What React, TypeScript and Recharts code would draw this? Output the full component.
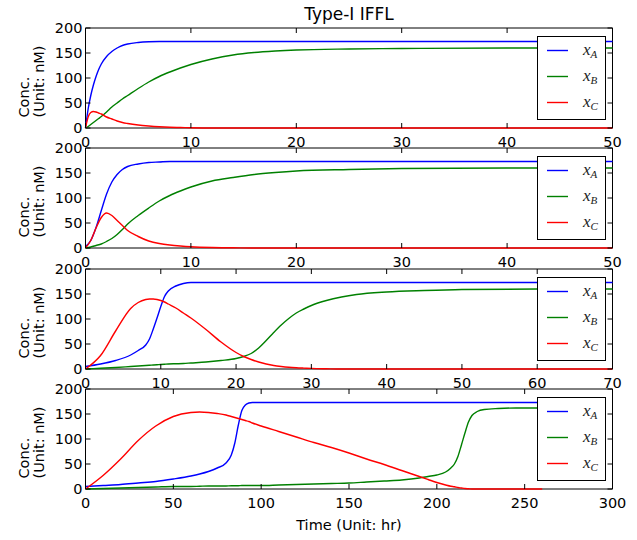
import { LineChart, Line, XAxis, YAxis, CartesianGrid, ReferenceArea, Legend } from "recharts";

const FONT = "'DejaVu Sans', sans-serif";
const MATH = "'Liberation Serif', serif";
const W = 637;
const PH = 100; // plot box height
const PLOT_L = 85.5;
const PLOT_R = 612.5;

const Y_TICKS = [0, 50, 100, 150, 200];
const SUBS = ["A", "B", "C"];

// panel 1: t in [0, 50]
const T1 = [0, 0.25, 0.5, 0.75, 1, 1.25, 1.5, 2, 2.5, 3, 3.5, 4, 5, 6, 7, 8, 9, 10, 12, 14, 16, 18, 20, 25, 30, 40, 50];
const A1 = [0, 38, 65, 86, 103, 117, 128, 143, 153, 160, 165, 168, 171, 172.5, 173, 173, 173, 173, 173, 173, 173, 173, 173, 173, 173, 173, 173];
const B1 = [0, 3, 7, 11, 15, 19, 23, 32, 42, 50, 58, 65, 79, 92, 103, 112, 120, 127, 138, 146, 151, 154, 156, 158, 159, 160, 160];
const C1 = [0, 22, 31, 33, 32, 30, 28, 22, 18, 14, 11, 9, 6, 4, 2.5, 1.5, 1, 0.5, 0, 0, 0, 0, 0, 0, 0, 0, 0];
const X1 = [0, 10, 20, 30, 40, 50];

// panel 2: t in [0, 50]
const T2 = [0, 0.5, 1, 1.5, 2, 2.5, 3, 3.5, 4, 5, 6, 7, 8, 9, 10, 12, 14, 16, 18, 20, 25, 30, 40, 50];
const A2 = [3, 15, 41, 75, 108, 132, 147, 157, 163, 168, 171, 172, 173, 173, 173, 173, 173, 173, 173, 173, 173, 173, 173, 173];
const B2 = [0, 2, 5, 8, 13, 19, 27, 37, 48, 65, 80, 94, 105, 114, 122, 134, 141, 147, 151, 154, 157, 159, 160, 160];
const C2 = [0, 15, 40, 61, 70, 65, 55, 45, 35, 23, 14, 9, 6, 4, 2.5, 1, 0.5, 0, 0, 0, 0, 0, 0, 0];
const X2 = [0, 10, 20, 30, 40, 50];

// panel 3: t in [0, 70]
const T3 = [0, 2, 4, 6, 7, 8, 8.5, 9, 9.5, 10, 10.5, 11, 12, 13, 14, 16, 18, 20, 21, 22, 23, 24, 25, 26, 27, 28, 29, 30, 32, 34, 36, 40, 45, 50, 60, 70];
const A3 = [5, 10, 17, 28, 37, 48, 60, 80, 102, 125, 145, 156, 166, 171, 173, 173, 173, 173, 173, 173, 173, 173, 173, 173, 173, 173, 173, 173, 173, 173, 173, 173, 173, 173, 173, 173];
const B3 = [0, 1.5, 3, 5, 6, 7, 7.5, 8, 8.5, 9, 9.5, 10, 10.5, 11, 12, 14, 17, 21, 25, 31, 42, 57, 73, 88, 101, 112, 120, 127, 137, 144, 149, 154, 157, 159, 160, 160];
const C3 = [0, 27, 76, 121, 133, 139, 140, 140, 139, 137, 134, 130, 122, 112, 102, 79, 54, 33, 25, 19, 14, 10, 7, 5, 3.5, 2.5, 1.8, 1.2, 0.5, 0, 0, 0, 0, 0, 0, 0];
const X3 = [0, 10, 20, 30, 40, 50, 60, 70];

// panel 4: t in [0, 300], simulated up to 260
const T4 = [0, 10, 20, 30, 40, 50, 60, 65, 70, 75, 80, 83, 85, 87, 89, 91, 93, 95, 100, 110, 120, 130, 140, 150, 160, 170, 180, 190, 195, 200, 205, 208, 210, 212, 214, 216, 218, 220, 223, 227, 235, 245, 260];
const A4 = [5, 7, 9, 12, 15, 20, 26, 30, 35, 42, 52, 68, 92, 128, 157, 168, 172, 173, 173, 173, 173, 173, 173, 173, 173, 173, 173, 173, 173, 173, 173, 173, 173, 173, 173, 173, 173, 173, 173, 173, 173, 173, 173];
const B4 = [0, 1, 2, 3, 4, 5, 5, 5.5, 6, 6, 6, 6.5, 6.5, 6.5, 7, 7, 7, 7, 7, 8, 9, 10, 11, 12, 14, 16, 18, 22, 25, 28, 34, 42, 50, 65, 88, 112, 134, 147, 155, 159, 161, 162, 162];
const C4 = [0, 27, 60, 97, 126, 145, 153, 154, 153, 151, 148, 145, 143, 141, 139, 137, 135, 132, 126, 115, 104, 93, 83, 72, 60, 49, 37, 25, 19, 13, 8, 5.5, 4.5, 3, 2, 1, 0.5, 0, 0, 0, 0, 0, 0];
const X4 = [0, 50, 100, 150, 200, 250, 300];

const rows = (t: number[], a: number[], b: number[], c: number[]) =>
  t.map((v, i) => ({ t: v, a: a[i], b: b[i], c: c[i] }));

const PANELS = [
  { top: 28, mt: 28, data: rows(T1, A1, B1, C1), xMax: 50, xTicks: X1 },
  { top: 148, mt: 10, data: rows(T2, A2, B2, C2), xMax: 50, xTicks: X2 },
  { top: 269, mt: 10, data: rows(T3, A3, B3, C3), xMax: 70, xTicks: X3 },
  { top: 389, mt: 10, data: rows(T4, A4, B4, C4), xMax: 300, xTicks: X4 },
];

const makeXTick = (mt: number) => (props: any) => {
  const { x, payload } = props;
  return (
    <g>
      <line x1={x} x2={x} y1={mt + PH} y2={mt + PH - 5} stroke="#000" />
      <line x1={x} x2={x} y1={mt} y2={mt + 5} stroke="#000" />
      <text x={x} y={mt + PH + 18.5} textAnchor="middle" fontSize={14.5} fontFamily={FONT} fill="#000">
        {payload.value}
      </text>
    </g>
  );
};

const YTick = (props: any) => {
  const { y, payload } = props;
  return (
    <g>
      <line x1={PLOT_L} x2={PLOT_L + 5} y1={y} y2={y} stroke="#000" />
      <line x1={PLOT_R} x2={PLOT_R - 5} y1={y} y2={y} stroke="#000" />
      <text x={PLOT_L - 3} y={y} dy={5.2} textAnchor="end" fontSize={14.5} fontFamily={FONT} fill="#000">
        {payload.value}
      </text>
    </g>
  );
};

const YLabel = (props: any) => {
  const y0 = props.viewBox.y + 89.5;
  return (
    <g fontFamily={FONT} fontSize={14.5} fill="#000">
      <text transform={`translate(28.5 ${y0}) rotate(-90)`}>Conc.</text>
      <text transform={`translate(43.8 ${y0}) rotate(-90)`}>(Unit: nM)</text>
    </g>
  );
};

const XLabel = (props: any) => {
  const vb = props.viewBox;
  return (
    <text x={vb.x + vb.width / 2} y={vb.y + 41} textAnchor="middle" fontFamily={FONT} fontSize={14.5} fill="#000">
      Time (Unit: hr)
    </text>
  );
};

const LegendBox = ({ payload }: any) => (
  <svg width={69} height={84} style={{ display: "block" }}>
    <rect x={0.5} y={0.5} width={68} height={83} fill="#fff" stroke="#000" />
    {(payload || []).map((p: any, i: number) => {
      const cy = 14.5 + i * 26;
      return (
        <g key={p.value}>
          <line x1={10} x2={31} y1={cy} y2={cy} stroke={p.color} strokeWidth={1.4} />
          <text x={46} y={cy + 4} fontFamily={MATH} fontStyle="italic" fontSize={17} fill="#222">
            x<tspan fontSize={11} dy={3}>{p.value}</tspan>
          </text>
        </g>
      );
    })}
  </svg>
);

function Panel({ top, mt, data, xMax, xTicks, last }: any) {
  const axisH = last ? 50 : 30;
  return (
    <div style={{ position: "absolute", left: 0, top: top - mt }}>
      <LineChart width={W} height={mt + PH + axisH} data={data} margin={{ top: mt, right: W - PLOT_R, bottom: 0, left: 0 }}>
        <CartesianGrid fill="#fff" stroke="none" horizontal={false} vertical={false} />
        <XAxis
          dataKey="t"
          type="number"
          domain={[0, xMax]}
          ticks={xTicks}
          interval={0}
          axisLine={false}
          tickLine={false}
          tick={makeXTick(mt)}
          height={axisH}
          label={last ? XLabel : undefined}
        />
        <YAxis
          type="number"
          domain={[0, 200]}
          ticks={Y_TICKS}
          interval={0}
          axisLine={false}
          tickLine={false}
          tick={YTick}
          width={PLOT_L}
          label={YLabel}
        />
        <Line type="monotone" dataKey="a" name={SUBS[0]} stroke="#0000ff" strokeWidth={1.4} dot={false} activeDot={false} isAnimationActive={false} />
        <Line type="monotone" dataKey="b" name={SUBS[1]} stroke="#008000" strokeWidth={1.4} dot={false} activeDot={false} isAnimationActive={false} />
        <Line type="monotone" dataKey="c" name={SUBS[2]} stroke="#ff0000" strokeWidth={1.4} dot={false} activeDot={false} isAnimationActive={false} />
        <ReferenceArea x1={0} x2={xMax} y1={0} y2={200} fill="none" stroke="#000" strokeWidth={1} ifOverflow="visible" />
        <Legend
          layout="vertical"
          align="center"
          verticalAlign="middle"
          content={LegendBox}
          wrapperStyle={{ left: 537, top: mt + 7.5, width: 69, height: 84 }}
        />
        {mt > 20 && (
          <text x={(PLOT_L + PLOT_R) / 2} y={19.5} textAnchor="middle" fontFamily={FONT} fontSize={17} fill="#000">
            Type-I IFFL
          </text>
        )}
      </LineChart>
    </div>
  );
}

export default function App() {
  return (
    <div style={{ position: "absolute", left: 0, top: 0, width: W, height: 540, background: "#fff" }}>
      {PANELS.map((p, i) => (
        <Panel key={i} {...p} last={i === PANELS.length - 1} />
      ))}
    </div>
  );
}
